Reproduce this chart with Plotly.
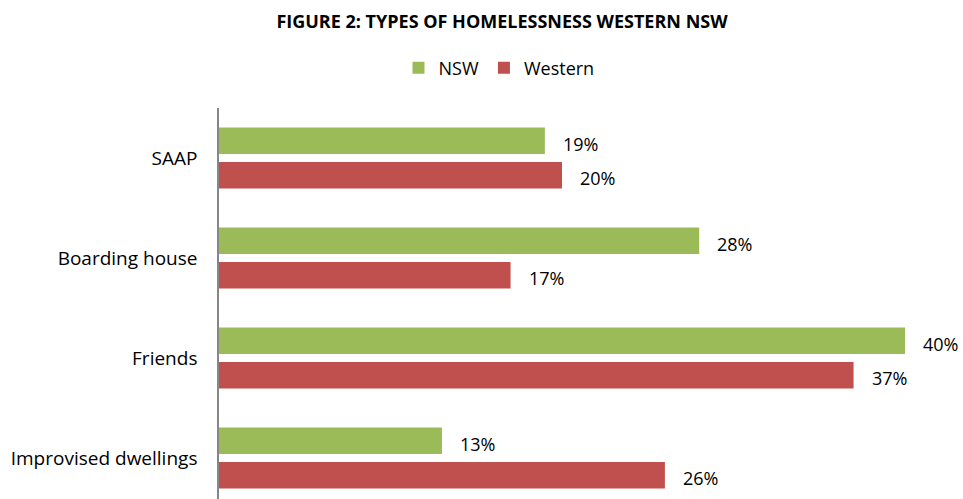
import plotly.graph_objects as go

categories = ["SAAP", "Boarding house", "Friends", "Improvised dwellings"]
nsw = [19, 28, 40, 13]
western = [20, 17, 37, 26]
series_names = ["NSW", "Western"]
colors = ["#9BBB59", "#C0504D"]
FONT = "Open Sans"

fig = go.Figure()
fig.add_trace(go.Bar(y=categories, x=nsw, orientation="h", name=series_names[0],
                     marker=dict(color=colors[0], line=dict(width=0))))
fig.add_trace(go.Bar(y=categories, x=western, orientation="h", name=series_names[1],
                     marker=dict(color=colors[1], line=dict(width=0))))

annotations = []
for vals, shift in ((nsw, 14), (western, -20)):
    for c, v in zip(categories, vals):
        annotations.append(dict(x=v, y=c, xref="x", yref="y", text=f"{v}%",
                                showarrow=False, xanchor="left", yanchor="middle",
                                xshift=16, yshift=shift,
                                font=dict(family=FONT, size=18, color="#000000")))

fig.update_layout(
    width=963, height=499,
    margin=dict(l=219, r=0, t=108, b=0, pad=0),
    paper_bgcolor="white", plot_bgcolor="white",
    barmode="group", bargap=0.31, bargroupgap=0.232,
    title=dict(text="<b>FIGURE 2: TYPES OF HOMELESSNESS WESTERN NSW</b>",
               x=502/963, xref="container", xanchor="center",
               y=1 - 22/499, yref="container", yanchor="middle",
               font=dict(family=FONT, size=18, color="#000000")),
    legend=dict(orientation="h", x=(499 - 219) / 744, xanchor="center",
                y=1 + 40/391, yanchor="middle",
                font=dict(family=FONT, size=18, color="#000000"),
                itemwidth=30, traceorder="normal"),
    xaxis=dict(range=[0, 744/17.15], visible=False, showgrid=False, zeroline=False),
    yaxis=dict(range=[3.41, -0.5], showline=True, linecolor="#868686", linewidth=1.5,
               showgrid=False, zeroline=False, ticks="", ticklabelstandoff=16,
               tickfont=dict(family=FONT, size=19, color="#000000")),
    annotations=annotations,
    font=dict(family=FONT),
)

fig.write_html("out.html")
